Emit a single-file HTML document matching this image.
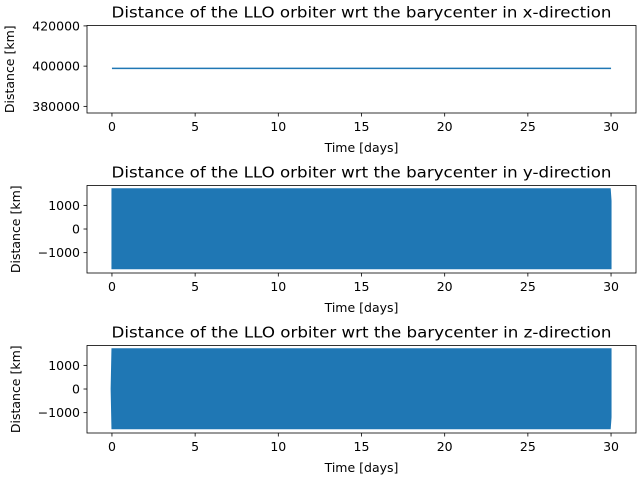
<!DOCTYPE html>
<html><head><meta charset="utf-8"><style>
body{margin:0;background:#fff}
svg{display:block;font-family:"DejaVu Sans","Liberation Sans",sans-serif}
</style></head><body>
<svg id="c" width="640" height="480" viewBox="0 0 640 480"></svg>
<script>
const xTicks=[0,5,10,15,20,25,30];
const xPos=[0,30];
const xVal=[398900,398900];
const yEnvT=[0,0.05,29.95,30];
const yEnvMax=[1700,1700,1700,1200];
const yEnvMin=[-1680,-1680,-1680,-1680];
const zEnvT=[-0.05,0,29.95,30];
const zEnvMax=[0,1700,1700,1700];
const zEnvMin=[0,-1680,-1680,-1200];
const panelTitles=["Distance of the LLO orbiter wrt the barycenter in x-direction","Distance of the LLO orbiter wrt the barycenter in y-direction","Distance of the LLO orbiter wrt the barycenter in z-direction"];
const yTicks1=[380000,400000,420000];
const yTicks23=[-1000,0,1000];

const svg=document.getElementById('c');
const NS='http://www.w3.org/2000/svg';
function el(t,a,p){const e=document.createElementNS(NS,t);for(const k in a)e.setAttribute(k,a[k]);(p||svg).appendChild(e);return e;}
const L=87,R=636;
const xs=v=>L+(v+1.5)/33*(R-L);
const panels=[
 {top:25.5,bot:113,ymin:376700,ymax:420200,ticks:yTicks1,name:'x'},
 {top:185.5,bot:273,ymin:-1860,ymax:1840,ticks:yTicks23,name:'y'},
 {top:345.5,bot:433,ymin:-1860,ymax:1840,ticks:yTicks23,name:'z'}];
panels.forEach((p,i)=>{
 const g=el('g',{});
 
 
 const ys=v=>p.bot-(v-p.ymin)/(p.ymax-p.ymin)*(p.bot-p.top);
 if(i===0){
  const pts=xPos.map((t,k)=>xs(t)+','+ys(xVal[k])).join(' ');
  const ln=el('polyline',{points:pts,fill:'none',stroke:'#1f77b4','stroke-width':1.5},g);
  
  
 } else {
  const T=i===1?yEnvT:zEnvT, MX=i===1?yEnvMax:zEnvMax, MN=i===1?yEnvMin:zEnvMin;
  let pts=T.map((t,k)=>xs(t)+','+ys(MX[k]));
  for(let k=T.length-1;k>=0;k--)pts.push(xs(T[k])+','+ys(MN[k]));
  const pg=el('polygon',{points:pts.join(' '),fill:'#1f77b4',stroke:'#1f77b4','stroke-width':1},g);
  
  
 }
 const fr=el('rect',{x:L,y:p.top,width:R-L,height:p.bot-p.top,fill:'none',stroke:'#000','stroke-width':0.8},g);
 
 
 xTicks.forEach(t=>{
  const x=xs(t);
  el('line',{x1:x,x2:x,y1:p.bot,y2:p.bot+3.5,stroke:'#000','stroke-width':0.8},g);
  const tx=el('text',{x:x,y:p.bot+18,'font-size':12.5,'text-anchor':'middle',fill:'#000'},g);
  tx.textContent=t;
  
  
 });
 p.ticks.forEach(t=>{
  const y=ys(t);
  el('line',{x1:L,x2:L-3.5,y1:y,y2:y,stroke:'#000','stroke-width':0.8},g);
  const tx=el('text',{x:L-7,y:y+4.5,'font-size':12.5,'text-anchor':'end',fill:'#000'},g);
  tx.textContent=t<0?'\u2212'+Math.abs(t):t;
  
  
 });
 const tt=el('text',{x:(L+R)/2,y:p.top-8,'font-size':15,'text-anchor':'middle',fill:'#000',textLength:500,lengthAdjust:'spacingAndGlyphs'},g);
 tt.textContent=panelTitles[i];
 
 
 const xl=el('text',{x:(L+R)/2,y:p.bot+39,'font-size':12.5,'text-anchor':'middle',fill:'#000'},g);
 xl.textContent='Time [days]';
 
 
 const yx=i===0?14:20, yc=(p.top+p.bot)/2;
 const yl=el('text',{x:yx,y:yc,'font-size':12.5,'text-anchor':'middle',fill:'#000',transform:`rotate(-90 ${yx} ${yc})`},g);
 yl.textContent='Distance [km]';
 
 
});
</script>
</body></html>
